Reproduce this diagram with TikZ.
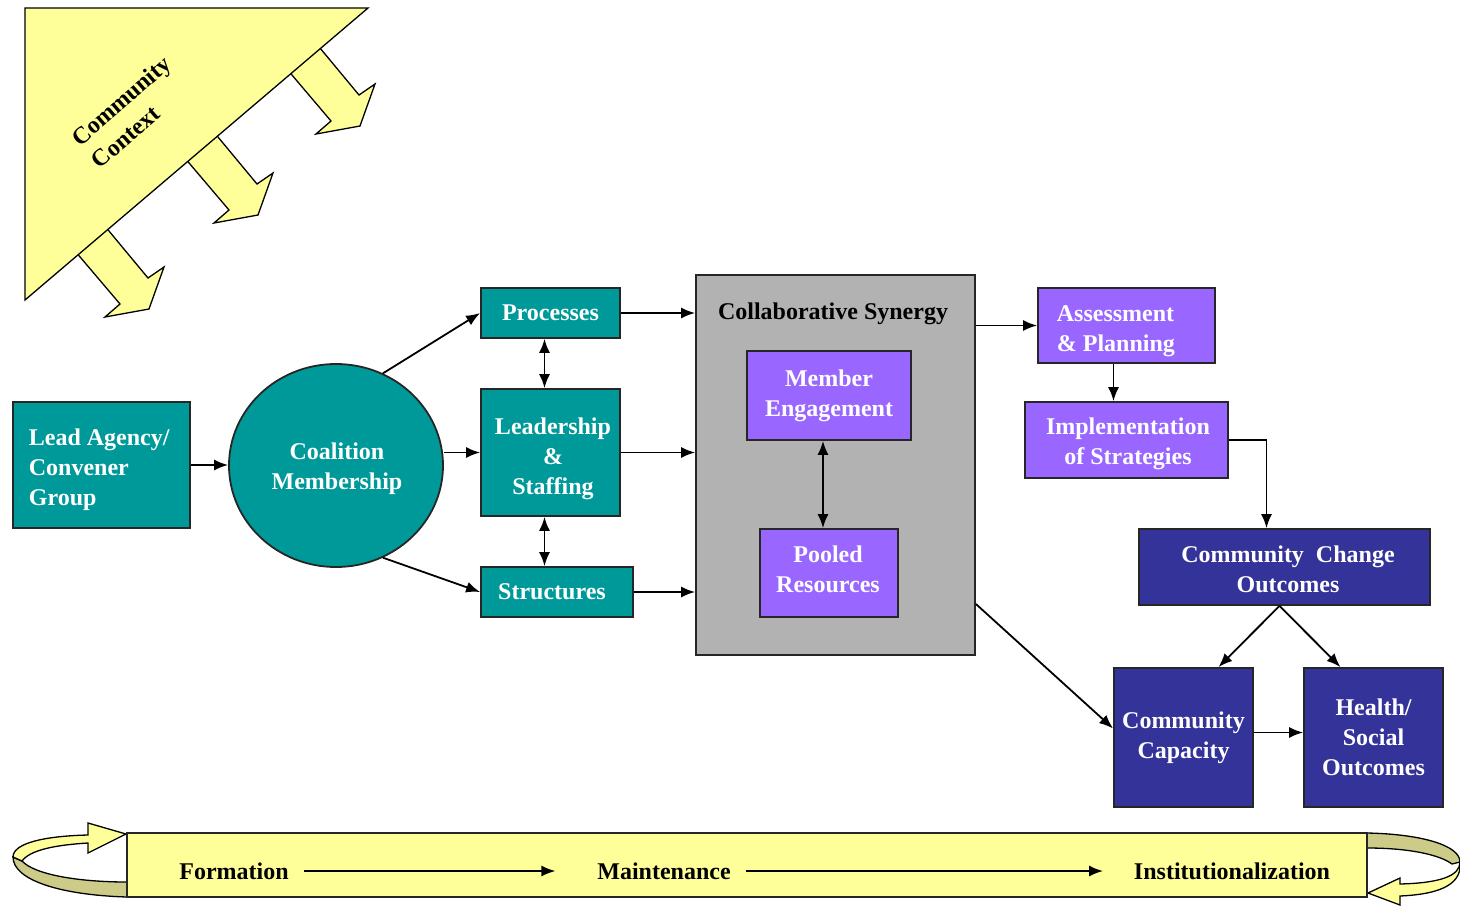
\documentclass[tikz,border=0pt]{standalone}
\usepackage{fontspec}
\setmainfont{Liberation Serif}
\usepackage{tikz}
\usetikzlibrary{arrows.meta, shapes.geometric}

\definecolor{tealbox}{HTML}{009999}
\definecolor{purplebox}{HTML}{9966FF}
\definecolor{navybox}{HTML}{333399}
\definecolor{synergygray}{HTML}{B2B2B2}
\definecolor{ctxyellow}{HTML}{FFFF99}
\definecolor{ribbonkhaki}{HTML}{CCCC88}
\newcommand{\dfont}{\bfseries\fontsize{24}{30}\selectfont}

\begin{document}
\begin{tikzpicture}[
  >={Latex[length=14pt,width=11pt]},
  x=1pt, y=-1pt, % 1pt = 参考图 1px,y 轴向下
  line width=1.8pt,
  tealnode/.style={draw=black!85, fill=tealbox, text=white, font=\dfont, align=center, inner sep=0pt},
  purplenode/.style={draw=black!85, fill=purplebox, text=white, font=\dfont, align=center, inner sep=0pt},
  navynode/.style={draw=black!85, fill=navybox, text=white, font=\dfont, align=center, inner sep=0pt},
  boxtext/.style={text=white, font=\dfont, align=center, inner sep=0pt},
  bandlabel/.style={font=\dfont, inner sep=8pt}
]
  \useasboundingbox (0,0) rectangle (1460,906);

  % 社区背景:三角形和三个块状箭头
  \newcommand{\ctxarrow}[2]{%
    \begin{scope}[shift={(#1,#2)}]
      \draw[fill=ctxyellow, line width=1.3pt] (75,251) -- (120,304) -- (105,317) -- (149,309)
        -- (164,267) -- (148,278) -- (104,225) -- cycle;
    \end{scope}
  }
  \ctxarrow{0}{0}
  \ctxarrow{109}{-94}
  \ctxarrow{211}{-183}
  \draw[fill=ctxyellow, line width=1.3pt] (25,8) -- (368,8) -- (25,300) -- cycle;
  \node (ctx) [rotate=41, align=left, font=\dfont] at (131,112) {Community\\Context};

  % 形成阶段
  \node (agency) [tealnode, minimum width=177, minimum height=126] at (101.5,465) {};
  \node (agencytxt) [boxtext, anchor=west, align=left] at (28,470) {Lead Agency/\\Convener\\Group};
  \node (coal) [tealnode, ellipse, minimum width=214, minimum height=203] at (336,465.5) {};
  \node (coaltxt) [boxtext] at (337,469) {Coalition\\Membership};
  \node (proc) [tealnode, minimum width=139, minimum height=50] at (550.5,313) {Processes};
  \node (lead) [tealnode, minimum width=139, minimum height=127] at (550.5,452.5) {};
  \node (leadtxt) [boxtext] at (553,459) {Leadership\\\&\\Staffing};
  \node (struc) [tealnode, minimum width=152, minimum height=50] at (557,592) {};
  \node (structxt) [boxtext] at (552,592) {Structures};

  % 协同效应
  \node (synergy) [draw=black!85, fill=synergygray, minimum width=279, minimum height=380] at (835.5,465) {};
  \node (syntitle) [font=\dfont] at (833,314) {Collaborative Synergy};
  \node (member) [purplenode, minimum width=164, minimum height=89] at (829,395.5) {Member\\Engagement};
  \node (pooled) [purplenode, minimum width=138, minimum height=88] at (829,573) {};
  \node (pooledtxt) [boxtext] at (828,569) {Pooled\\Resources};

  % 行动与结果
  \node (assess) [purplenode, minimum width=177, minimum height=75] at (1126.5,325.5) {};
  \node (assesstxt) [boxtext, anchor=west, align=left] at (1056,331) {Assessment\\\& Planning};
  \node (impl) [purplenode, minimum width=203, minimum height=76] at (1126.5,440) {};
  \node (impltxt) [boxtext] at (1128,444) {Implementation\\of Strategies};
  \node (change) [navynode, minimum width=291, minimum height=76] at (1284.5,567) {};
  \node (changetxt) [boxtext] at (1288,569) {Community~ Change\\Outcomes};
  \node (capac) [navynode, minimum width=139, minimum height=139] at (1183.5,737.5) {Community\\Capacity};
  \node (health) [navynode, minimum width=139, minimum height=139] at (1373.5,737.5) {Health/\\Social\\Outcomes};

  % 连线
  \draw[->] (agency.east) -- (coal.west |- agency.east);
  \draw[->] (coal.63) -- (proc.west);
  \draw[->] (coal.east |- lead.west) -- (lead.west);
  \draw[->] (coal.-63) -- (struc.west);
  \draw[<->] ([xshift=-6]proc.south) -- ([xshift=-6]lead.north);
  \draw[<->] ([xshift=-6]lead.south) -- ([xshift=-6]struc.north -| lead.south);
  \draw[->] (proc.east) -- (proc.east -| synergy.west);
  \draw[->] (lead.east) -- (lead.east -| synergy.west);
  \draw[->] (struc.east) -- (struc.east -| synergy.west);
  \draw[<->] ([xshift=-6]member.south) -- ([xshift=-6]pooled.north);
  \draw[->] (assess.west -| synergy.east) -- (assess.west);
  \draw[->] ([xshift=-13]assess.south) -- ([xshift=-13]impl.north);
  \draw[->] (impl.east) -| ([xshift=-18]change.north);
  \draw[->] ([yshift=-139]synergy.east) -- ([yshift=9]capac.west);
  \draw[->] ([xshift=-5]change.south) -- ([xshift=35]capac.north);
  \draw[->] ([xshift=-5]change.south) -- ([xshift=-33]health.north);
  \draw[->] ([yshift=5]capac.east) -- ([yshift=5]health.west);

  % 底部阶段条和两端的回环箭头
  \draw[fill=ribbonkhaki, line width=1.3pt] (127,897) .. controls (60,895) and (13,880) .. (13,857)
    -- (22,861) .. controls (35,875) and (80,882) .. (127,882) -- cycle;
  \draw[fill=ctxyellow, line width=1.3pt] (13,857) .. controls (13,843) and (45,836) .. (88,835)
    -- (88,823) -- (126,834) -- (88,853) -- (88,843) .. controls (55,845) and (30,850) .. (22,861) -- cycle;
  \draw[fill=ribbonkhaki, line width=1.3pt] (1367,833) .. controls (1420,834) and (1460,845) .. (1460,862)
    -- (1452,864) .. controls (1440,855) and (1410,848) .. (1367,848) -- cycle;
  \draw[fill=ctxyellow, line width=1.3pt] (1460,862) .. controls (1460,876) and (1440,883) .. (1400,884)
    -- (1400,878) -- (1368,893) -- (1400,905) -- (1400,896) .. controls (1445,894) and (1462,882) .. (1460,862) -- cycle;
  \node (band) [draw=black!85, fill=ctxyellow, minimum width=1240, minimum height=64] at (747,865) {};
  \node (form) [bandlabel] at (234,871) {Formation};
  \node (maint) [bandlabel] at (664,871) {Maintenance};
  \node (inst) [bandlabel] at (1232,871) {Institutionalization};
  \draw[->, shorten >=33pt, shorten <=6pt] (form.east) -- (maint.west);
  \draw[->, shorten >=22pt, shorten <=6pt] (maint.east) -- (inst.west);
\end{tikzpicture}
\end{document}
